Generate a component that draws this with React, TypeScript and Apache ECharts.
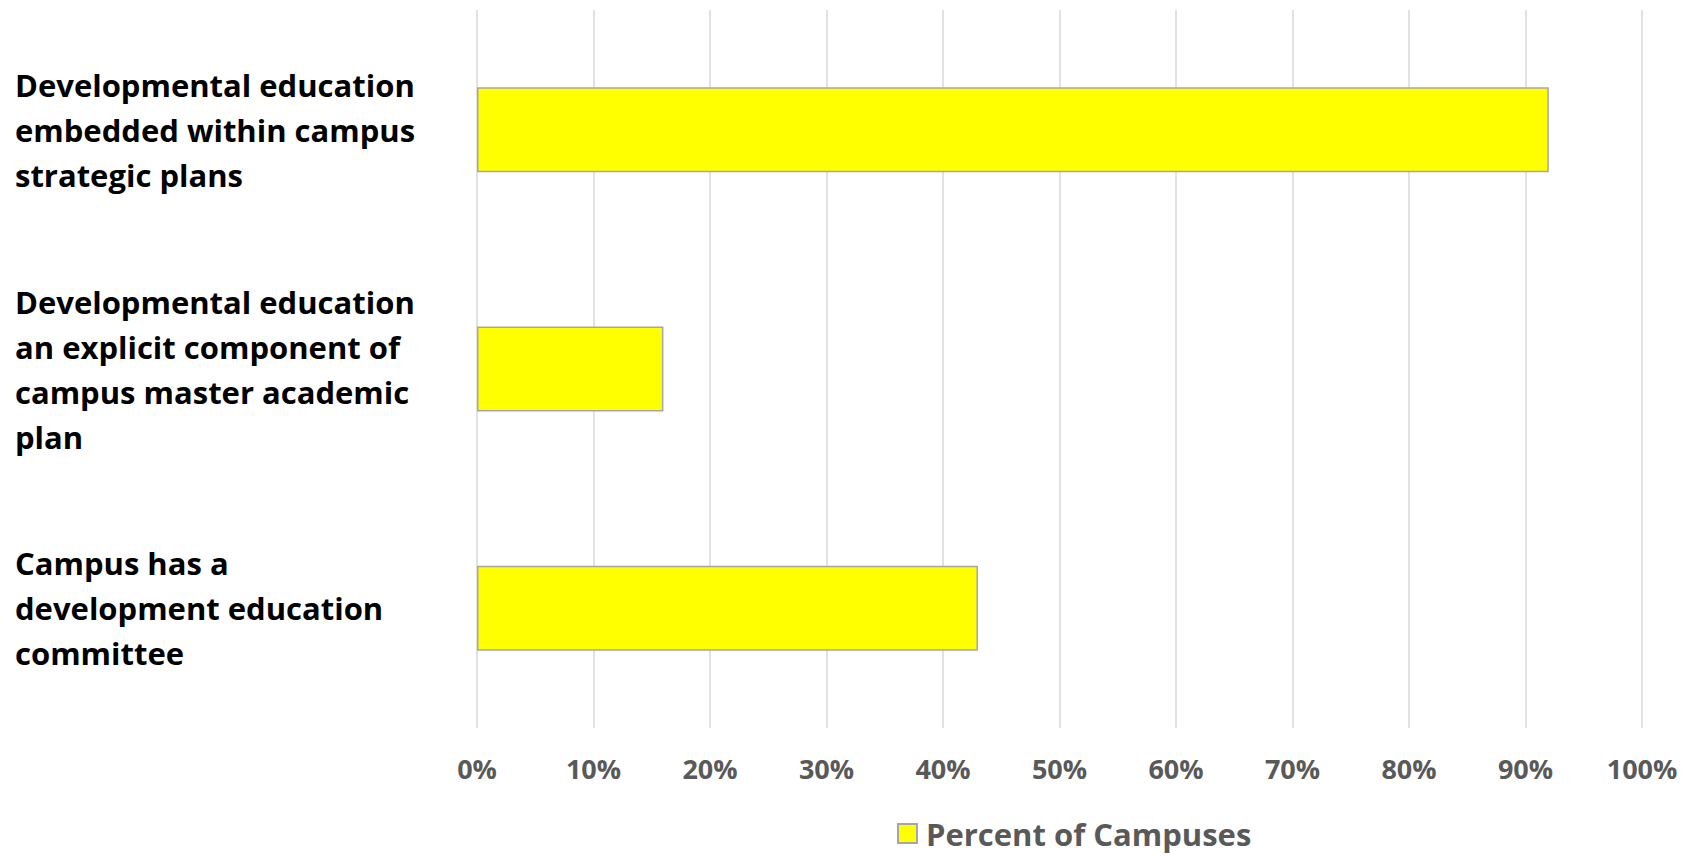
import React, { useEffect, useRef } from "react";
import * as echarts from "echarts";

// Survey items, top to bottom
const categories: string[] = [
  "Developmental education\nembedded within campus\nstrategic plans",
  "Developmental education\nan explicit component of\ncampus master academic\nplan",
  "Campus has a\ndevelopment education\ncommittee",
];

// Share of campuses (%) for each item
const percentOfCampuses: number[] = [92, 16, 43];

const seriesName = "Percent of Campuses";

const xTicks = { min: 0, max: 100, interval: 10 };

const FONT = "'Open Sans', Lato, sans-serif";

export default function App() {
  const ref = useRef<HTMLDivElement>(null);

  useEffect(() => {
    if (!ref.current) return;
    const chart = echarts.init(ref.current, undefined, { renderer: "svg" });
    chart.setOption({
      animation: false,
      backgroundColor: "#ffffff",
      grid: { left: 477, right: 52, top: 10, bottom: 128, containLabel: false },
      legend: {
        data: [seriesName],
        left: 897,
        top: 818,
        padding: 0,
        icon: "rect",
        itemWidth: 19,
        itemHeight: 19,
        textStyle: {
          fontFamily: FONT,
          fontSize: 31,
          fontWeight: "bold",
          color: "#595959",
          padding: [0, 0, 0, 4],
        },
      },
      xAxis: {
        type: "value",
        min: xTicks.min,
        max: xTicks.max,
        interval: xTicks.interval,
        axisLine: { show: false },
        axisTick: { show: false },
        splitLine: { show: true, lineStyle: { color: "#d9d9d9", width: 1.5 } },
        axisLabel: {
          formatter: "{value}%",
          margin: 27,
          fontFamily: FONT,
          fontSize: 27,
          fontWeight: "bold",
          color: "#595959",
        },
      },
      yAxis: {
        type: "category",
        data: categories,
        inverse: true,
        axisLine: { show: false },
        axisTick: { show: false },
        splitLine: { show: false },
        axisLabel: {
          align: "left",
          margin: 462,
          padding: [4, 0, 0, 0],
          fontFamily: FONT,
          fontSize: 31,
          fontWeight: "bold",
          color: "#000000",
          lineHeight: 45,
        },
      },
      series: [
        {
          name: seriesName,
          type: "bar",
          data: percentOfCampuses,
          barWidth: 85,
          itemStyle: { color: "#ffff00", borderColor: "#a6a6a6", borderWidth: 1.5 },
        },
      ],
    });
    return () => chart.dispose();
  }, []);

  return (
    <div
      ref={ref}
      style={{ position: "fixed", left: 0, top: 0, width: 1694, height: 856 }}
    />
  );
}
